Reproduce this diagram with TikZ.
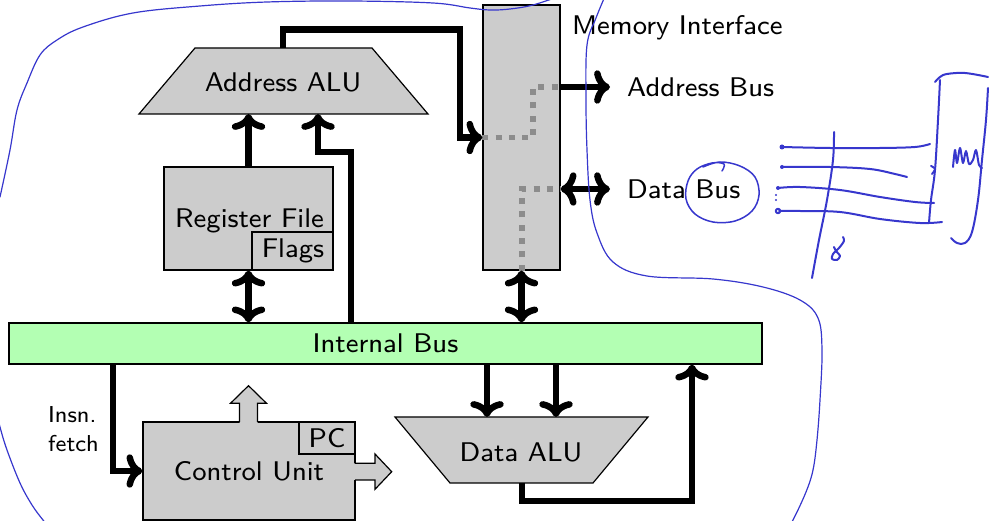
\documentclass[tikz,border=0pt]{standalone}
\usepackage{fontspec}
\setsansfont{lmsans8-regular.otf}
\usetikzlibrary{calc,arrows.meta}
\definecolor{boxgray}{RGB}{204,204,204}
\definecolor{busgreen}{RGB}{179,255,179}
\definecolor{inkblue}{RGB}{55,55,205}
\definecolor{dotgray}{RGB}{140,140,140}
\begin{document}
\begin{tikzpicture}[x=1pt,y=-1pt,
  lbl/.style={font=\sffamily\fontsize{27}{32}\selectfont, inner sep=0pt, anchor=base},
  smalllbl/.style={font=\sffamily\fontsize{23}{28}\selectfont, inner sep=0pt, anchor=base west},
  box/.style={draw=black, fill=boxgray, line width=1.2pt, inner sep=0pt},
  bus/.style={line width=6.5pt, >={To}},
  dots/.style={dotgray, line width=5.5pt, dash pattern=on 6pt off 7.3pt},
  blockarrow/.style={draw=black, line width=1.2pt},
  anno/.style={inkblue, line width=1.2pt, line cap=round},
  scrib/.style={inkblue, line width=2pt, line cap=round, line join=round}]
\useasboundingbox (0,0) rectangle (989,521);
\clip (0,0) rectangle (989,521);

% boxes
\node[box, minimum width=77pt, minimum height=265pt] (mi) at (521.5,137.5) {};
\node[box, fill=busgreen, minimum width=753pt, minimum height=41pt] (ib) at (385.5,343.5) {};
\node[box, minimum width=169pt, minimum height=103pt] (rf) at (248.5,218.5) {};
\node[box, minimum width=81pt, minimum height=38pt] (fl) at (292.5,251) {};
\node[box, minimum width=212pt, minimum height=98pt] (cu) at (249,471) {};
\node[box, minimum width=56pt, minimum height=32pt] (pc) at (327,438) {};

% trapezoids
\draw[box] (195,48) -- (372,48) -- (428,114) -- (139,114) -- cycle;
\coordinate (aalu-top) at (283,48);
\coordinate (aalu-in2) at (318,114);
\coordinate (aalu-bot) at (283,114);
\draw[box] (395,417) -- (648,417) -- (593,483) -- (450,483) -- cycle;
\coordinate (dalu-in1) at (487,417);
\coordinate (dalu-in2) at (556,417);
\coordinate (dalu-out) at (522,483);

% block arrows of the control unit
\fill[boxgray] (239.5,424) -- (239.5,403.3) -- (230.5,403.3) -- (248.5,385.7) -- (266.5,403.3) -- (257.5,403.3) -- (257.5,424) -- cycle;
\draw[blockarrow] (239.5,422) -- (239.5,403.3) -- (230.5,403.3) -- (248.5,385.7) -- (266.5,403.3) -- (257.5,403.3) -- (257.5,422);
\fill[boxgray] (353,463.3) -- (375,463.3) -- (375,454) -- (391.7,471.7) -- (375,489.3) -- (375,480) -- (353,480) -- cycle;
\draw[blockarrow] (355,463.3) -- (375,463.3) -- (375,454) -- (391.7,471.7) -- (375,489.3) -- (375,480) -- (355,480);

% labels
\node[lbl] (t-aalu) at (283,92) {Address ALU};
\node[lbl] (t-rf) at (249.5,228) {Register File};
\node[lbl] (t-fl) at (293,258) {Flags};
\node[lbl, anchor=base west] (t-mi) at (572,35) {Memory Interface};
\node[lbl, anchor=base west] (t-ab) at (627,97) {Address Bus};
\node[lbl, anchor=base west] (t-db) at (627,199) {Data Bus};
\node[lbl] (t-ib) at (385.5,353) {Internal Bus};
\node[lbl] (t-pc) at (327,448) {PC};
\node[lbl] (t-cu) at (249,481) {Control Unit};
\node[lbl] (t-dalu) at (521,461) {Data ALU};
\node[smalllbl] (t-insn1) at (48,423) {Insn.};
\node[smalllbl] (t-insn2) at (48,452) {fetch};

% connector end points
\coordinate (ab-end) at (610,87);
\coordinate (db-end) at (610,189);
\coordinate (c1) at (283,29.5);
\coordinate (c2) at (460,29.5);
\coordinate (c3) at (351,152);
\coordinate (c4) at (692,501);
\coordinate (c5) at (113,471);
\coordinate (d1) at (533,137.5);
\coordinate (d2) at (533,87);
\coordinate (d3) at (522,189);

% dotted paths inside the memory interface
\draw[dots] (mi.west) -- (d1) -- (d2) -- (mi.east |- ab-end);
\draw[dots] (mi.south -| d3) -- (d3) -- (mi.east |- db-end);

% buses
\draw[bus,->] (aalu-top) -- (c1) -- (c2) |- (mi.west);
\draw[bus,->] (rf.north) -- (rf.north |- aalu-bot);
\draw[bus,->] (ib.north -| c3) |- (aalu-in2 |- c3) -- (aalu-in2);
\draw[bus,<->] (rf.south) -- (rf.south |- ib.north);
\draw[bus,<->] (mi.south) -- (mi.south |- ib.north);
\draw[bus,->] (ib.south -| dalu-in1) -- (dalu-in1);
\draw[bus,->] (ib.south -| dalu-in2) -- (dalu-in2);
\draw[bus,->] (dalu-out) |- (c4) -- (c4 |- ib.south);
\draw[bus,->] (ib.south -| c5) |- (cu.west);
\draw[bus,->] (mi.east |- ab-end) -- (ab-end);
\draw[bus,<->] (mi.east |- db-end) -- (db-end);

% handwritten annotations
\draw[anno] plot[smooth, tension=0.6] coordinates {(0,197) (10,150) (17,110) (27,83) (40,55) (57,40) (83,27) (133,13) (200,6) (267,2) (350,1) (433,3) (470,8) (490,10) (510,9) (533,5) (560,-4)};
\draw[anno] plot[smooth, tension=0.6] coordinates {(606,-6) (596,18) (587,45) (586,100) (587,150) (590,200) (597,233) (613,262) (647,276) (713,279) (763,287) (800,300) (818,318) (822,350) (820,400) (817,440) (813,470) (806,492) (793,520) (785,532)};
\draw[anno] plot[smooth, tension=0.6] coordinates {(-4,410) (0,427) (7,450) (20,483) (32,505) (43,520) (50,528)};

% circle around "Bus"
\draw[scrib, line width=1.5pt] plot[smooth, tension=0.6] coordinates {(703,167) (720,162) (740,166) (755,177) (759,195) (752,211) (735,221) (713,222) (695,214) (686,199) (688,181) (697,169) (712,163) (724,164) (722,171)};

% lines and bracket on the right
\fill[inkblue] (782,147) circle (2.5pt);
\fill[inkblue] (782,167) circle (2pt);
\fill[inkblue] (778,188) circle (2pt);
\fill[inkblue] (776,195) circle (1.2pt);
\fill[inkblue] (776,200) circle (1.2pt);
\draw[scrib] (778,211) circle (2.2pt);
\draw[scrib] plot[smooth, tension=0.6] coordinates {(782,147) (830,148) (880,148) (915,147) (930,144)};
\draw[scrib] plot[smooth, tension=0.6] coordinates {(782,167) (830,167) (870,169) (895,174) (907,177)};
\draw[scrib] plot[smooth, tension=0.6] coordinates {(778,188) (800,187) (840,190) (880,197) (915,202) (934,203)};
\draw[scrib] plot[smooth, tension=0.6] coordinates {(779,211) (800,211) (840,212) (880,219) (920,223) (942,222)};
\draw[scrib] plot[smooth, tension=0.6] coordinates {(834,132) (833,160) (827,200) (819,240) (812,278)};
\draw[scrib] plot[smooth, tension=0.5] coordinates {(843,237) (844,241) (839,248) (833,254) (832,259) (837,260) (840,256) (836,251) (834,247)};
\draw[scrib] plot[smooth, tension=0.6] coordinates {(935,82) (940,77) (947,74) (965,73) (988,77)};
\draw[scrib] plot[smooth, tension=0.6] coordinates {(940,80) (938,120) (935,170) (931,200) (929,223)};
\draw[scrib] plot[smooth, tension=0.6] coordinates {(931,166) (935,169) (932,174)};
\draw[scrib] plot[smooth, tension=0.6] coordinates {(988,88) (986,120) (982,160) (978,200) (972,232) (965,243) (957,243) (951,238)};
\draw[scrib] plot[smooth, tension=0.5] coordinates {(953,167) (955,150) (957,163) (960,148) (963,163) (966,151) (969,164) (973,160) (976,150) (979,165) (982,168)};
\end{tikzpicture}
\end{document}
